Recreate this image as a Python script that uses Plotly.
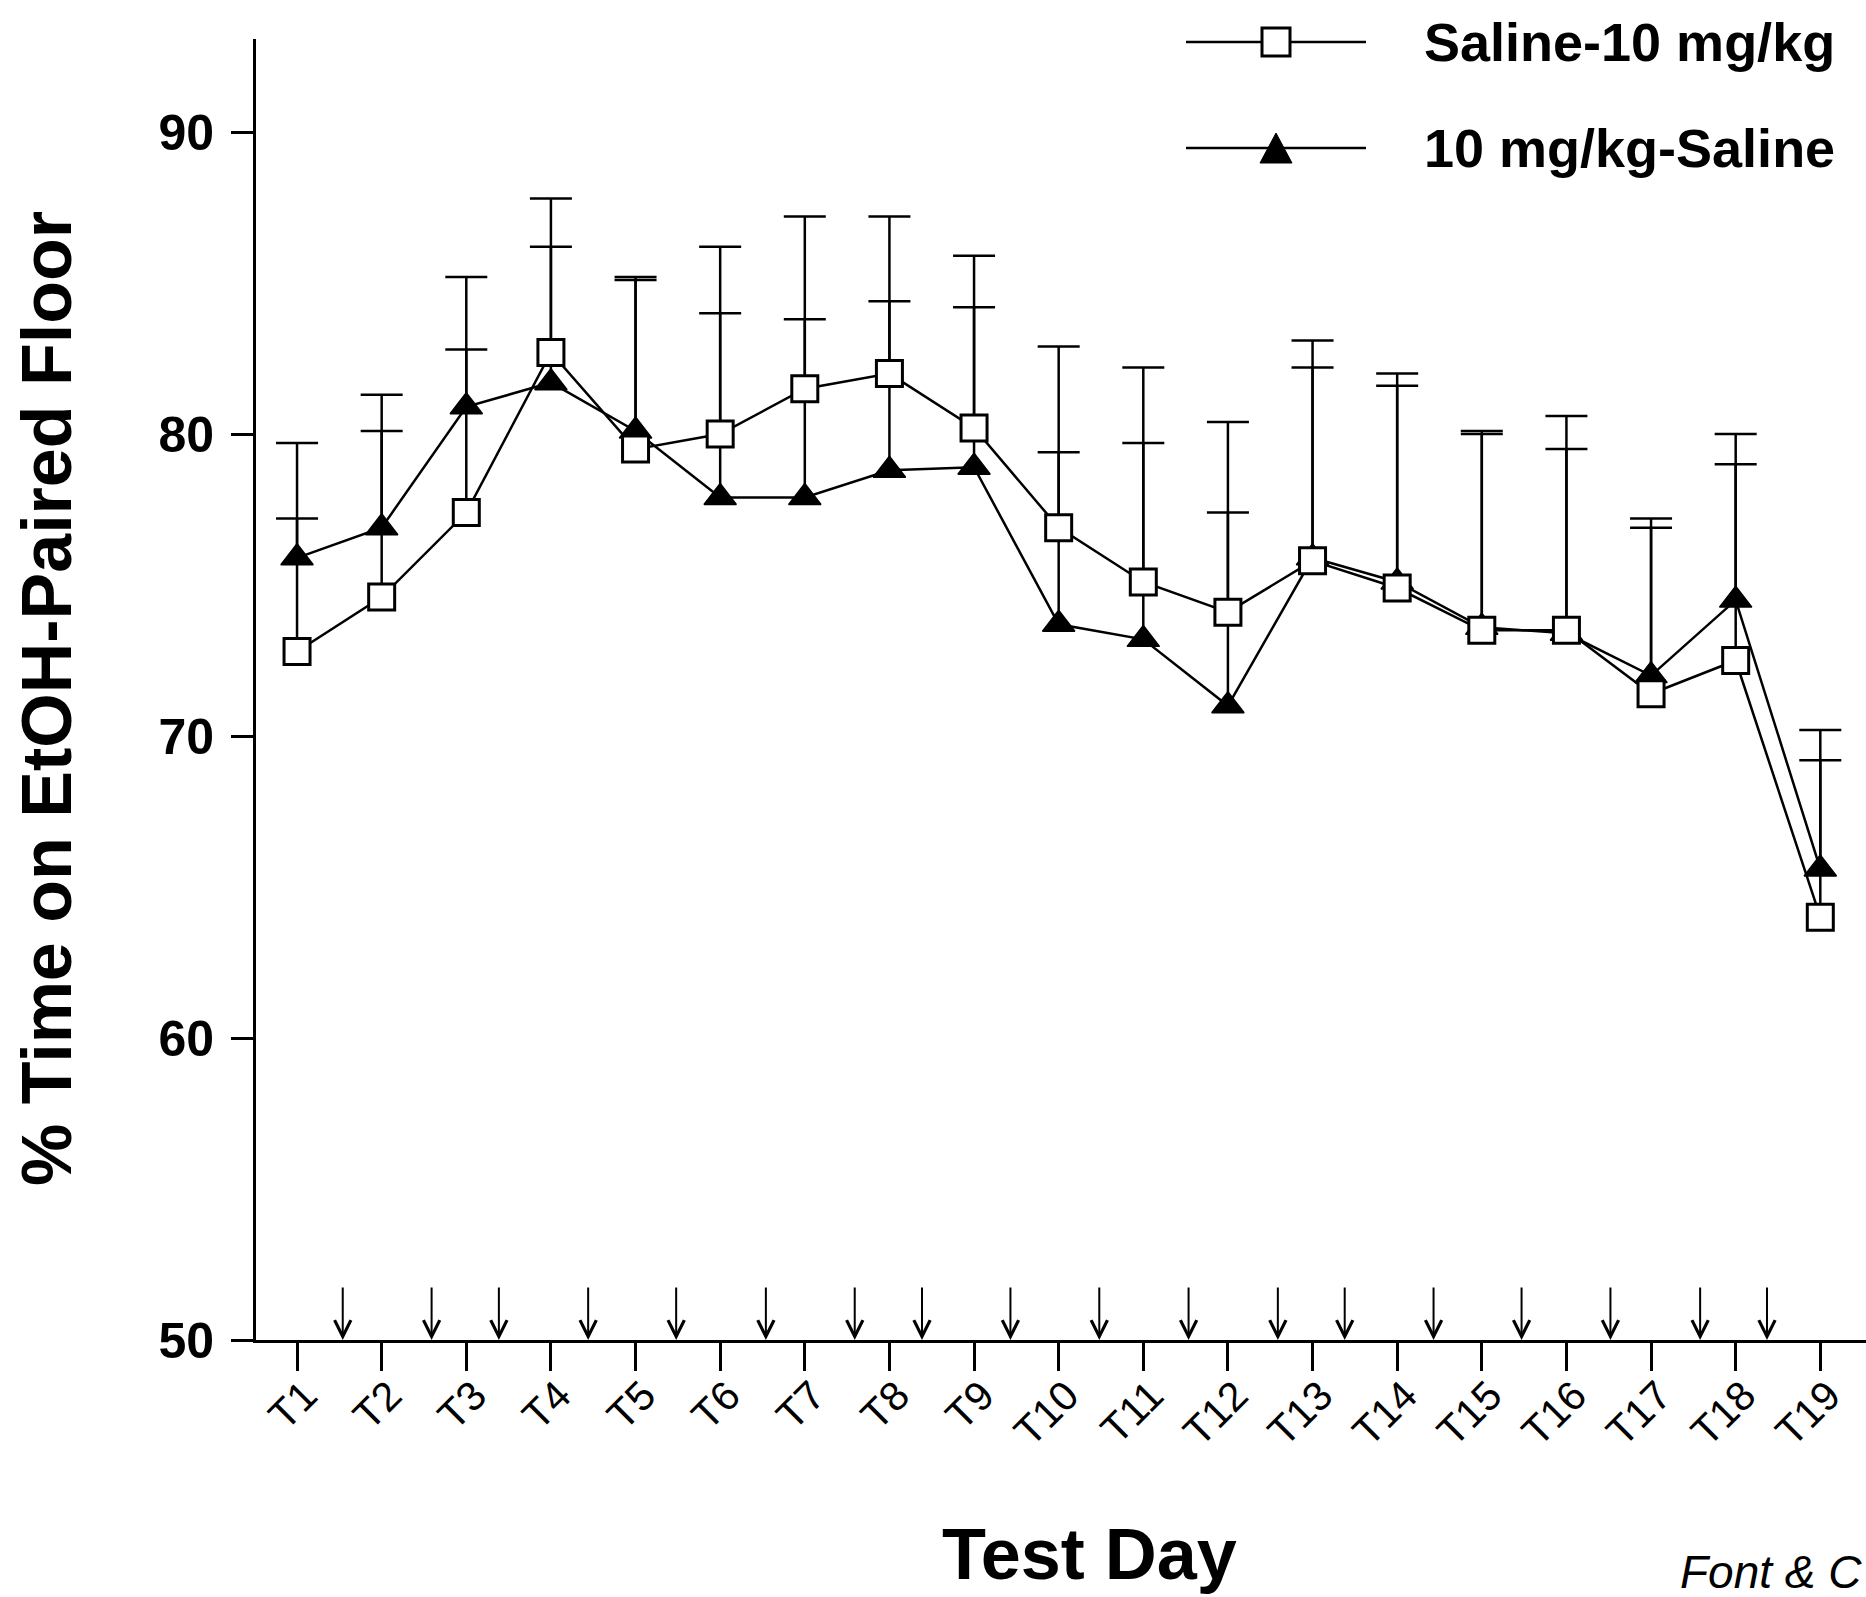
import plotly.graph_objects as go

# ---------------- data ----------------
days = list(range(1, 20))
day_labels = [f"T{i}" for i in days]

sal10_mean = [72.8, 74.6, 77.4, 82.7, 79.5, 80.0, 81.5, 82.0, 80.2, 76.9,
              75.1, 74.1, 75.8, 74.9, 73.5, 73.5, 71.4, 72.5, 64.0]
sal10_sem = [4.4, 5.5, 5.4, 5.1, 5.6, 6.2, 5.7, 5.2, 5.7, 6.0,
             7.1, 6.3, 6.4, 6.7, 6.5, 6.0, 5.5, 6.5, 5.2]

mg10sal_mean = [75.9, 76.9, 80.9, 81.7, 80.1, 77.9, 77.9, 78.8, 78.9, 73.7,
                73.2, 71.0, 75.9, 75.1, 73.6, 73.4, 72.0, 74.5, 65.6]
mg10sal_sem = [3.8, 4.4, 4.3, 4.5, 5.1, 6.1, 5.9, 5.6, 5.3, 5.7,
               6.5, 6.4, 7.2, 6.9, 6.5, 7.2, 5.2, 5.5, 4.6]

# conditioning sessions (arrows) between test days
arrow_days = [1.54, 2.59, 3.385, 4.44, 5.48, 6.54, 7.59, 8.385, 9.43,
              10.48, 11.535, 12.59, 13.38, 14.43, 15.47, 16.52, 17.58, 18.37]

y_ticks = [50, 60, 70, 80, 90]
series_names = ["Saline-10 mg/kg", "10 mg/kg-Saline"]

# ---------------- layout constants ----------------
W, H = 1866, 1597
ML, MR, MT, MB = 256, 0, 39, 257
PW, PH = W - ML - MR, H - MT - MB
FONT = "Arial, Liberation Sans, sans-serif"


def px_x(p):
    return (p - ML) / PW


def px_y(p):
    return (H - MB - p) / PH


fig = go.Figure()


def add_series(mean, sem, symbol, fill, size, lw):
    caps = [m + s for m, s in zip(mean, sem)]
    fig.add_trace(go.Scatter(
        x=days, y=caps, mode="markers",
        marker=dict(symbol="line-ew", size=30, color="black",
                    line=dict(color="black", width=2.5)),
        showlegend=False, hoverinfo="skip", cliponaxis=False))
    fig.add_trace(go.Scatter(
        x=days, y=mean, mode="lines+markers",
        line=dict(color="black", width=2.5),
        marker=dict(symbol=symbol, size=size, color=fill,
                    line=dict(color="black", width=lw)),
        error_y=dict(type="data", symmetric=False, array=sem,
                     arrayminus=[0] * len(sem), color="black",
                     thickness=2.5, width=0),
        showlegend=False, cliponaxis=False))


add_series(mg10sal_mean, mg10sal_sem, "triangle-up", "black", 28, 1.5)
add_series(sal10_mean, sal10_sem, "square", "white", 26, 3)

annotations = []
for a in arrow_days:
    annotations.append(dict(
        x=a, y=50, xref="x", yref="y", ax=0, ay=-54, axref="pixel", ayref="pixel",
        showarrow=True, arrowhead=5, arrowsize=1.6, arrowwidth=2,
        arrowcolor="black", text=""))

# axis titles & credits
annotations.append(dict(text="<b>Test Day</b>", x=px_x(1089), y=px_y(1554),
                        xref="paper", yref="paper", showarrow=False,
                        xanchor="center", yanchor="middle",
                        font=dict(family=FONT, size=72, color="black")))
annotations.append(dict(text="<b>% Time on EtOH-Paired Floor</b>", x=px_x(47),
                        y=px_y(699), xref="paper", yref="paper", showarrow=False,
                        textangle=-90, xanchor="center", yanchor="middle",
                        font=dict(family=FONT, size=70, color="black")))
annotations.append(dict(text="<i>Font &amp; C</i>", x=px_x(1678), y=px_y(1572),
                        xref="paper", yref="paper", showarrow=False,
                        xanchor="left", yanchor="middle",
                        font=dict(family=FONT, size=46, color="black")))

# legend (drawn manually)
shapes = []
rows = [42, 148]
for i, name in enumerate(series_names):
    ry = rows[i]
    shapes.append(dict(type="line", xref="paper", yref="paper",
                       x0=px_x(1186), x1=px_x(1366), y0=px_y(ry), y1=px_y(ry),
                       line=dict(color="black", width=2.5)))
    annotations.append(dict(text=f"<b>{name}</b>", x=px_x(1422), y=px_y(ry),
                            xref="paper", yref="paper", showarrow=False,
                            xanchor="left", yanchor="middle",
                            font=dict(family=FONT, size=54, color="black")))
shapes.append(dict(type="rect", xref="paper", yref="paper",
                   x0=px_x(1262), x1=px_x(1290), y0=px_y(28), y1=px_y(56),
                   fillcolor="white", line=dict(color="black", width=3)))
shapes.append(dict(type="path", xref="paper", yref="paper",
                   path=f"M {px_x(1260)} {px_y(163)} L {px_x(1292)} {px_y(163)} "
                        f"L {px_x(1276)} {px_y(133)} Z",
                   fillcolor="black", line=dict(color="black", width=1)))

fig.update_layout(
    width=W, height=H,
    margin=dict(l=ML, r=MR, t=MT, b=MB),
    paper_bgcolor="white", plot_bgcolor="white",
    showlegend=False,
    annotations=annotations,
    shapes=shapes,
    xaxis=dict(range=[0.515, 19.54], tickmode="array", tickvals=days,
               ticktext=day_labels, tickangle=-45, ticks="outside", ticklen=28,
               tickwidth=3, tickcolor="black", showline=True, linecolor="black",
               linewidth=3, showgrid=False, zeroline=False,
               ticklabelstandoff=-16, ticklabelshift=8,
               tickfont=dict(family=FONT, size=41, color="black")),
    yaxis=dict(range=[50, 93.08], tickmode="array", tickvals=y_ticks,
               ticks="outside", ticklen=22, tickwidth=3, tickcolor="black",
               showline=True, linecolor="black", linewidth=3, showgrid=False,
               zeroline=False, ticklabelstandoff=7,
               tickfont=dict(family=FONT, size=50, color="black", weight="bold")),
)

fig.write_html("out.html",
               config={"displayModeBar": False},
               post_script="document.body.style.margin='0px';"
                           "document.body.style.overflow='hidden';")
